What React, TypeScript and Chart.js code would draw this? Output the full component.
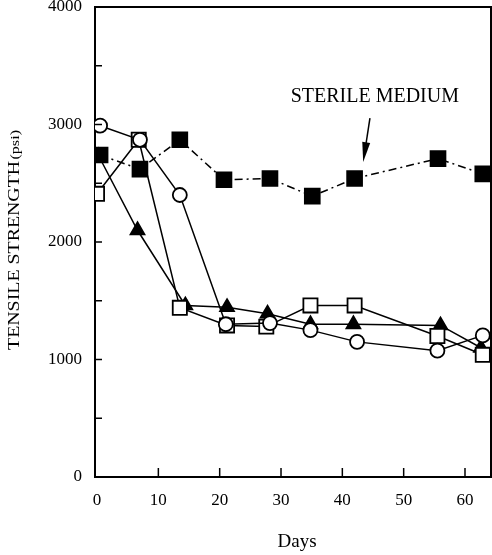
import { useEffect, useRef } from "react";
import { Chart, registerables } from "chart.js";
Chart.register(...registerables);

// Sterile medium (filled squares, dash-dot line)
const STERILE_DAYS = [0.5, 7, 13.5, 20.7, 28.2, 35.1, 42, 55.6, 62.9];
const STERILE_PSI = [2740, 2620, 2870, 2530, 2540, 2390, 2540, 2710, 2580];
// Open circles
const CIRCLE_DAYS = [0.5, 7, 13.5, 21, 28.2, 34.8, 42.4, 55.5, 62.9];
const CIRCLE_PSI = [2990, 2870, 2400, 1300, 1310, 1250, 1150, 1075, 1205];
// Open squares
const SQUARE_DAYS = [0, 6.8, 13.5, 21.2, 27.6, 34.8, 42, 55.5, 62.9];
const SQUARE_PSI = [2410, 2870, 1440, 1290, 1280, 1460, 1460, 1200, 1040];
// Filled triangles
const TRIANGLE_DAYS = [0.3, 6.6, 14.4, 21.2, 27.8, 34.8, 41.8, 56, 62.6];
const TRIANGLE_PSI = [2730, 2100, 1460, 1445, 1390, 1300, 1300, 1290, 1100];

const X_TICKS = [0, 10, 20, 30, 40, 50, 60];
const Y_TICK_STEP = 500;
const Y_LABEL_STEP = 1000;

const ANNOT_TEXT = "STERILE MEDIUM";
const ANNOT_POS = { x: 45.3, y: 3234 };
const ARROW_FROM = { x: 44.5, y: 3055 };
const ARROW_TO = { x: 43.4, y: 2680 };

const Y_TITLE_MAIN = "TENSILE STRENGTH";
const Y_TITLE_UNIT = "(psi)";
const X_TITLE = "Days";

const FONT = "'Liberation Serif', 'Times New Roman', serif";

const pts = (xs: number[], ys: number[]) => xs.map((x, i) => ({ x, y: ys[i] }));

const zeroPad = (s: any) => {
  s.paddingTop = 0;
  s.paddingBottom = 0;
  s.paddingLeft = 0;
  s.paddingRight = 0;
};

const decor = {
  id: "decor",
  afterDraw(chart: any) {
    const { ctx, chartArea: a, scales } = chart;
    const xs = scales.x;
    const ys = scales.y;
    ctx.save();
    ctx.strokeStyle = "#000";
    ctx.fillStyle = "#000";
    // frame top and right
    ctx.lineWidth = 2;
    ctx.beginPath();
    ctx.moveTo(a.left, a.top);
    ctx.lineTo(a.right, a.top);
    ctx.lineTo(a.right, a.bottom);
    ctx.stroke();
    // inward ticks
    ctx.lineWidth = 1.5;
    for (let v = Y_TICK_STEP; v < 4000; v += Y_TICK_STEP) {
      const py = ys.getPixelForValue(v);
      ctx.beginPath();
      ctx.moveTo(a.left, py);
      ctx.lineTo(a.left + 7, py);
      ctx.stroke();
    }
    X_TICKS.forEach((v) => {
      if (v === 0) return;
      const px = xs.getPixelForValue(v);
      ctx.beginPath();
      ctx.moveTo(px, a.bottom);
      ctx.lineTo(px, a.bottom - 9);
      ctx.stroke();
    });
    // annotation
    ctx.font = `20px ${FONT}`;
    ctx.textAlign = "center";
    ctx.textBaseline = "middle";
    ctx.fillText(ANNOT_TEXT, xs.getPixelForValue(ANNOT_POS.x), ys.getPixelForValue(ANNOT_POS.y));
    const x1 = xs.getPixelForValue(ARROW_FROM.x);
    const y1 = ys.getPixelForValue(ARROW_FROM.y);
    const x2 = xs.getPixelForValue(ARROW_TO.x);
    const y2 = ys.getPixelForValue(ARROW_TO.y);
    const ang = Math.atan2(y2 - y1, x2 - x1);
    const hl = 20;
    const hw = 4;
    ctx.lineWidth = 1.5;
    ctx.beginPath();
    ctx.moveTo(x1, y1);
    ctx.lineTo(x2 - Math.cos(ang) * hl * 0.8, y2 - Math.sin(ang) * hl * 0.8);
    ctx.stroke();
    ctx.beginPath();
    ctx.moveTo(x2, y2);
    ctx.lineTo(x2 - Math.cos(ang) * hl - Math.sin(ang) * hw, y2 - Math.sin(ang) * hl + Math.cos(ang) * hw);
    ctx.lineTo(x2 - Math.cos(ang) * hl + Math.sin(ang) * hw, y2 - Math.sin(ang) * hl - Math.cos(ang) * hw);
    ctx.closePath();
    ctx.fill();
    // x title
    ctx.font = `19px ${FONT}`;
    ctx.textAlign = "center";
    ctx.textBaseline = "middle";
    ctx.fillText(X_TITLE, 297, 542);
    // y title (rotated), stretched to the reference length
    ctx.translate(13, 240);
    ctx.rotate(-Math.PI / 2);
    ctx.font = `16px ${FONT}`;
    const w1 = ctx.measureText(Y_TITLE_MAIN).width;
    ctx.font = `13px ${FONT}`;
    const w2 = ctx.measureText(Y_TITLE_UNIT).width;
    const total = w1 + w2 + 1;
    const target = 220;
    ctx.scale(target / total, 1);
    ctx.textAlign = "left";
    ctx.textBaseline = "alphabetic";
    ctx.font = `16px ${FONT}`;
    ctx.fillText(Y_TITLE_MAIN, -total / 2, 5.5);
    ctx.font = `13px ${FONT}`;
    ctx.fillText(Y_TITLE_UNIT, -total / 2 + w1 + 1, 5.5);
    ctx.restore();
  },
};

export default function App() {
  const ref = useRef<HTMLCanvasElement | null>(null);
  useEffect(() => {
    if (!ref.current) return;
    const common = { borderColor: "#000", borderWidth: 1.5, pointBorderColor: "#000", pointBorderWidth: 1.8, tension: 0 };
    const chart = new Chart(ref.current, {
      type: "line",
      data: {
        datasets: [
          {
            ...common,
            label: "Sterile medium",
            data: pts(STERILE_DAYS, STERILE_PSI),
            borderDash: [8, 4, 2, 4],
            pointStyle: "rect",
            pointRadius: 10.5,
            pointBackgroundColor: "#000",
          },
          {
            ...common,
            label: "Circles",
            data: pts(CIRCLE_DAYS, CIRCLE_PSI),
            pointStyle: "circle",
            pointRadius: 7,
            pointBackgroundColor: "#fff",
          },
          {
            ...common,
            label: "Open squares",
            data: pts(SQUARE_DAYS, SQUARE_PSI),
            pointStyle: "rect",
            pointRadius: 10,
            pointBackgroundColor: "#fff",
          },
          {
            ...common,
            label: "Triangles",
            data: pts(TRIANGLE_DAYS, TRIANGLE_PSI),
            pointStyle: "triangle",
            pointRadius: 8,
            pointBackgroundColor: "#000",
          },
        ],
      },
      options: {
        animation: false,
        responsive: false,
        events: [],
        layout: { autoPadding: false, padding: { left: 0, top: 7, right: 1, bottom: 0 } },
        plugins: { legend: { display: false }, tooltip: { enabled: false } },
        scales: {
          x: {
            type: "linear",
            min: -0.33,
            max: 64.24,
            afterBuildTicks: (s: any) => {
              s.ticks = X_TICKS.map((v) => ({ value: v }));
            },
            afterFit: (s: any) => {
              s.height = 78;
              zeroPad(s);
            },
            grid: { drawOnChartArea: false, drawTicks: false },
            border: { display: true, color: "#000", width: 2 },
            ticks: { color: "#000", padding: 13, font: { family: FONT, size: 17 }, maxRotation: 0, autoSkip: false },
          },
          y: {
            type: "linear",
            min: 0,
            max: 4000,
            afterFit: (s: any) => {
              s.width = 95;
              zeroPad(s);
            },
            grid: { drawOnChartArea: false, drawTicks: false },
            border: { display: true, color: "#000", width: 2 },
            ticks: {
              stepSize: Y_TICK_STEP,
              color: "#000",
              padding: 13,
              font: { family: FONT, size: 17 },
              callback: (v: any) => (Number(v) % Y_LABEL_STEP === 0 ? String(v) : ""),
            },
          },
        },
      },
      plugins: [decor],
    });
    return () => chart.destroy();
  }, []);
  return (
    <div style={{ position: "fixed", left: 0, top: 0, width: 492, height: 555, background: "#fff" }}>
      <canvas ref={ref} width={492} height={555} style={{ display: "block" }} />
    </div>
  );
}
